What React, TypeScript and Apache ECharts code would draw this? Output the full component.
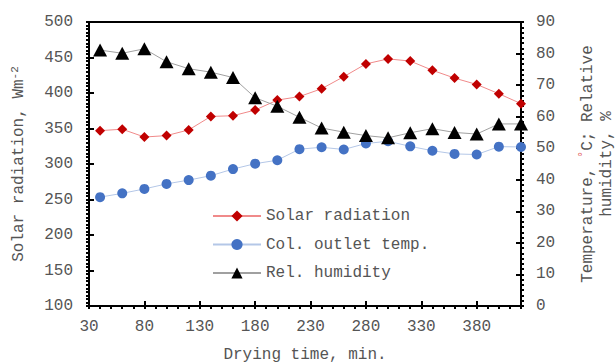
import React, { useEffect, useRef } from "react";
import * as echarts from "echarts";

const times = [40, 60, 80, 100, 120, 140, 160, 180, 200, 220, 240, 260, 280, 300, 320, 340, 360, 380, 400, 420];
const solarRadiation = [347, 349, 338, 340, 348, 367, 368, 376, 390, 395, 406, 423, 441, 448, 445, 432, 421, 412, 399, 385];
const outletTemp = [34.5, 35.7, 37.1, 38.7, 39.9, 41.3, 43.4, 45.1, 46.2, 49.7, 50.3, 49.6, 51.5, 52.2, 50.6, 49.2, 48.2, 48.0, 50.5, 50.4];
const relHumidity = [81.1, 80.1, 81.5, 77.4, 75.2, 74.1, 72.4, 66.0, 63.3, 59.8, 56.4, 55.1, 54.0, 53.3, 54.9, 56.2, 55.0, 54.5, 57.7, 57.7];
const seriesNames = ["Solar radiation", "Col. outlet temp.", "Rel. humidity"];

const FONT = "Liberation Mono";
const TXT = "#555555";

export default function App() {
  const ref = useRef<HTMLDivElement>(null);
  useEffect(() => {
    if (!ref.current) return;
    const chart = echarts.init(ref.current, undefined, { renderer: "svg" });
    const pair = (arr: number[]) => times.map((t, i) => [t, arr[i]]);
    const baseX = {
      type: "value",
      min: 30,
      max: 420,
      interval: 50,
    };
    const leftY = { type: "value", min: 100, max: 500, interval: 50 };
    const rightY = { type: "value", min: 0, max: 90, interval: 10 };
    const hiddenTicks = {
      axisLine: { show: false },
      axisLabel: { show: false },
      splitLine: { show: false },
      axisTick: { show: true, inside: true, length: 5, lineStyle: { color: "#000", width: 2 } },
    };
    chart.setOption({
      animation: false,
      grid: {
        left: 89,
        right: 95,
        top: 22,
        bottom: 57,
        containLabel: false,
        outerBoundsMode: "none",
        show: true,
        borderColor: "#000",
        borderWidth: 2,
        backgroundColor: "transparent",
      },
      legend: {
        orient: "vertical",
        left: 207,
        top: 203,
        itemWidth: 48,
        itemHeight: 14,
        itemGap: 12.5,
        data: seriesNames,
        textStyle: { fontFamily: FONT, fontSize: 16, color: TXT },
      },
      xAxis: [
        {
          ...baseX,
          position: "bottom",
          name: "Drying time, min.",
          nameLocation: "middle",
          nameGap: 41,
          nameTextStyle: { fontFamily: FONT, fontSize: 16, color: TXT },
          axisLine: { lineStyle: { color: "#000", width: 2 } },
          axisTick: { inside: false, length: 3, lineStyle: { color: "#000", width: 2 } },
          minorTick: { show: true, splitNumber: 5, length: 3, lineStyle: { color: "#000", width: 2 } },
          splitLine: { show: false },
          axisLabel: { fontFamily: FONT, fontSize: 16, color: TXT, margin: 13, showMaxLabel: false },
        },
        { ...baseX, position: "bottom", ...hiddenTicks },
      ],
      yAxis: [
        {
          ...leftY,
          position: "left",
          name: "Solar radiation, Wm{sup|-2}",
          nameLocation: "middle",
          nameGap: 61,
          nameRotate: 90,
          nameTextStyle: {
            fontFamily: FONT,
            fontSize: 16,
            color: TXT,
            rich: { sup: { fontFamily: FONT, fontSize: 11, color: TXT, verticalAlign: "top", padding: [0, 0, 8, 0] } },
          },
          axisLine: { show: true, lineStyle: { color: "#000", width: 2 } },
          axisTick: { show: true, inside: false, length: 3, lineStyle: { color: "#000", width: 2 } },
          minorTick: { show: true, splitNumber: 10, length: 3, lineStyle: { color: "#000", width: 2 } },
          splitLine: { show: false },
          axisLabel: { fontFamily: FONT, fontSize: 16, color: TXT, margin: 16 },
        },
        {
          ...rightY,
          position: "right",
          name: "Temperature, {red|°}C; Relative\nhumidity, %",
          nameLocation: "middle",
          nameGap: 57,
          nameRotate: 90,
          nameTextStyle: {
            fontFamily: FONT,
            fontSize: 16,
            color: TXT,
            lineHeight: 19,
            align: "center",
            rich: { red: { fontFamily: FONT, fontSize: 12, color: "#E05050", verticalAlign: "top" } },
          },
          axisLine: { show: true, lineStyle: { color: "#000", width: 2 } },
          axisTick: { show: true, inside: false, length: 3, lineStyle: { color: "#000", width: 2 } },
          minorTick: { show: true, splitNumber: 6, length: 3, lineStyle: { color: "#000", width: 2 } },
          splitLine: { show: false },
          axisLabel: { fontFamily: FONT, fontSize: 16, color: TXT, margin: 15 },
        },
        { ...leftY, position: "left", ...hiddenTicks },
        { ...rightY, position: "right", ...hiddenTicks },
      ],
      series: [
        {
          name: seriesNames[0],
          type: "line",
          xAxisIndex: 0,
          yAxisIndex: 0,
          data: pair(solarRadiation),
          symbol: "diamond",
          symbolSize: 10,
          itemStyle: { color: "#C00000" },
          lineStyle: { color: "#F08A8A", width: 1 },
          z: 3,
        },
        {
          name: seriesNames[1],
          type: "line",
          xAxisIndex: 0,
          yAxisIndex: 1,
          data: pair(outletTemp),
          symbol: "circle",
          symbolSize: 10,
          itemStyle: { color: "#4472C4" },
          lineStyle: { color: "#B4C7E7", width: 1 },
          z: 4,
        },
        {
          name: seriesNames[2],
          type: "line",
          xAxisIndex: 0,
          yAxisIndex: 1,
          data: pair(relHumidity),
          symbol: "triangle",
          symbolSize: [14, 13],
          itemStyle: { color: "#000" },
          lineStyle: { color: "#A0A0A0", width: 1 },
          z: 5,
        },
      ],
    });
    return () => chart.dispose();
  }, []);
  return (
    <div
      ref={ref}
      style={{ position: "absolute", left: 0, top: 0, width: 616, height: 363 }}
    />
  );
}
